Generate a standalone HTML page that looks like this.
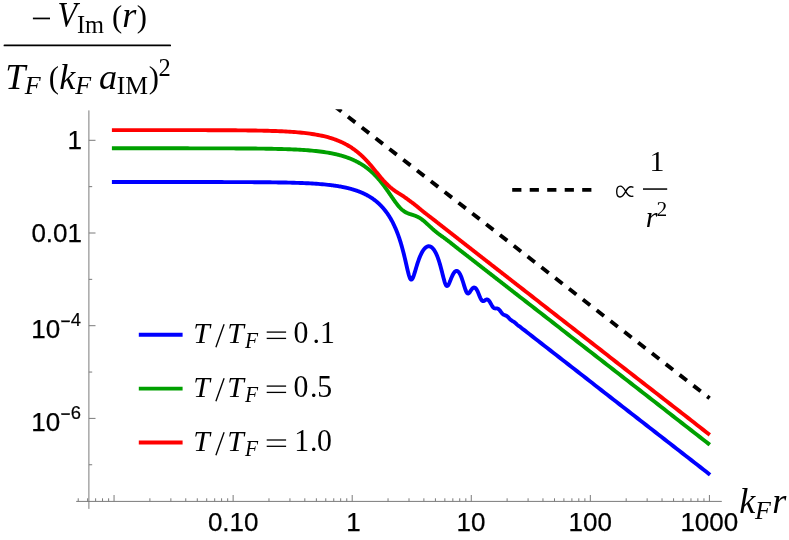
<!DOCTYPE html>
<html><head><meta charset="utf-8"><title>plot</title>
<style>
html,body{margin:0;padding:0;background:#fff;}
body{width:789px;height:540px;overflow:hidden;position:relative;}
svg{position:absolute;left:0;top:0;will-change:transform;}
text{fill:#000;}
.s{font-family:"Liberation Sans",sans-serif;font-size:26px;stroke:#000;stroke-width:0.25px;}
.ss{font-family:"Liberation Sans",sans-serif;font-size:18.4px;stroke:#000;stroke-width:0.2px;}
.ti{font-family:"Liberation Serif",serif;font-style:italic;font-size:33.5px;}
.tr{font-family:"Liberation Serif",serif;font-size:33.5px;}
.tsi{font-family:"Liberation Serif",serif;font-style:italic;font-size:23.5px;}
.tsr{font-family:"Liberation Serif",serif;font-size:23.5px;}
.li{font-family:"Liberation Serif",serif;font-style:italic;font-size:29.8px;}
.lr{font-family:"Liberation Serif",serif;font-size:29.8px;}
.lsi{font-family:"Liberation Serif",serif;font-style:italic;font-size:21.4px;}
.lsr{font-family:"Liberation Serif",serif;font-size:21.4px;}
</style></head><body>
<svg width="789" height="540" viewBox="0 0 789 540">
<rect width="789" height="540" fill="#fff"/>
<defs><clipPath id="pc"><rect x="90" y="109.3" width="640" height="392"/></clipPath></defs>
<g stroke="#7a7a7a" stroke-width="1" fill="none">
<line x1="76.2" y1="501.4" x2="721.8" y2="501.4"/>
<line x1="88.9" y1="110.4" x2="88.9" y2="508.9"/>
<line x1="114.06" y1="501.4" x2="114.06" y2="495.00"/>
<line x1="233.13" y1="501.4" x2="233.13" y2="495.00"/>
<line x1="352.20" y1="501.4" x2="352.20" y2="495.00"/>
<line x1="471.27" y1="501.4" x2="471.27" y2="495.00"/>
<line x1="590.34" y1="501.4" x2="590.34" y2="495.00"/>
<line x1="709.41" y1="501.4" x2="709.41" y2="495.00"/>
<line x1="78.22" y1="501.4" x2="78.22" y2="498.30"/>
<line x1="87.64" y1="501.4" x2="87.64" y2="498.30"/>
<line x1="95.62" y1="501.4" x2="95.62" y2="498.30"/>
<line x1="102.52" y1="501.4" x2="102.52" y2="498.30"/>
<line x1="108.61" y1="501.4" x2="108.61" y2="498.30"/>
<line x1="149.90" y1="501.4" x2="149.90" y2="498.30"/>
<line x1="170.87" y1="501.4" x2="170.87" y2="498.30"/>
<line x1="185.75" y1="501.4" x2="185.75" y2="498.30"/>
<line x1="197.29" y1="501.4" x2="197.29" y2="498.30"/>
<line x1="206.71" y1="501.4" x2="206.71" y2="498.30"/>
<line x1="214.69" y1="501.4" x2="214.69" y2="498.30"/>
<line x1="221.59" y1="501.4" x2="221.59" y2="498.30"/>
<line x1="227.68" y1="501.4" x2="227.68" y2="498.30"/>
<line x1="268.97" y1="501.4" x2="268.97" y2="498.30"/>
<line x1="289.94" y1="501.4" x2="289.94" y2="498.30"/>
<line x1="304.82" y1="501.4" x2="304.82" y2="498.30"/>
<line x1="316.36" y1="501.4" x2="316.36" y2="498.30"/>
<line x1="325.78" y1="501.4" x2="325.78" y2="498.30"/>
<line x1="333.76" y1="501.4" x2="333.76" y2="498.30"/>
<line x1="340.66" y1="501.4" x2="340.66" y2="498.30"/>
<line x1="346.75" y1="501.4" x2="346.75" y2="498.30"/>
<line x1="388.04" y1="501.4" x2="388.04" y2="498.30"/>
<line x1="409.01" y1="501.4" x2="409.01" y2="498.30"/>
<line x1="423.89" y1="501.4" x2="423.89" y2="498.30"/>
<line x1="435.43" y1="501.4" x2="435.43" y2="498.30"/>
<line x1="444.85" y1="501.4" x2="444.85" y2="498.30"/>
<line x1="452.83" y1="501.4" x2="452.83" y2="498.30"/>
<line x1="459.73" y1="501.4" x2="459.73" y2="498.30"/>
<line x1="465.82" y1="501.4" x2="465.82" y2="498.30"/>
<line x1="507.11" y1="501.4" x2="507.11" y2="498.30"/>
<line x1="528.08" y1="501.4" x2="528.08" y2="498.30"/>
<line x1="542.96" y1="501.4" x2="542.96" y2="498.30"/>
<line x1="554.50" y1="501.4" x2="554.50" y2="498.30"/>
<line x1="563.92" y1="501.4" x2="563.92" y2="498.30"/>
<line x1="571.90" y1="501.4" x2="571.90" y2="498.30"/>
<line x1="578.80" y1="501.4" x2="578.80" y2="498.30"/>
<line x1="584.89" y1="501.4" x2="584.89" y2="498.30"/>
<line x1="626.18" y1="501.4" x2="626.18" y2="498.30"/>
<line x1="647.15" y1="501.4" x2="647.15" y2="498.30"/>
<line x1="662.03" y1="501.4" x2="662.03" y2="498.30"/>
<line x1="673.57" y1="501.4" x2="673.57" y2="498.30"/>
<line x1="682.99" y1="501.4" x2="682.99" y2="498.30"/>
<line x1="690.97" y1="501.4" x2="690.97" y2="498.30"/>
<line x1="697.87" y1="501.4" x2="697.87" y2="498.30"/>
<line x1="703.96" y1="501.4" x2="703.96" y2="498.30"/>
<line x1="88.9" y1="140.30" x2="95.50" y2="140.30"/>
<line x1="88.9" y1="233.00" x2="95.50" y2="233.00"/>
<line x1="88.9" y1="325.70" x2="95.50" y2="325.70"/>
<line x1="88.9" y1="418.40" x2="95.50" y2="418.40"/>
<line x1="88.9" y1="186.65" x2="92.20" y2="186.65"/>
<line x1="88.9" y1="279.35" x2="92.20" y2="279.35"/>
<line x1="88.9" y1="372.05" x2="92.20" y2="372.05"/>
<line x1="88.9" y1="464.75" x2="92.20" y2="464.75"/>
</g>
<g fill="none" stroke-width="3.9" stroke-linejoin="round">
<path id="cb" stroke="#0000ff" d="M111.90,182.03 L114.20,182.03 L116.20,182.03 L118.20,182.03 L120.20,182.03 L122.20,182.03 L124.20,182.03 L126.20,182.03 L128.20,182.03 L130.20,182.03 L132.20,182.03 L134.20,182.03 L136.20,182.03 L138.20,182.03 L140.20,182.03 L142.20,182.03 L144.20,182.03 L146.20,182.03 L148.20,182.03 L150.20,182.03 L152.20,182.03 L154.20,182.03 L156.20,182.03 L158.20,182.03 L160.20,182.03 L162.20,182.03 L164.20,182.03 L166.20,182.03 L168.20,182.03 L170.20,182.03 L172.20,182.03 L174.20,182.03 L176.20,182.03 L178.20,182.03 L180.20,182.04 L182.20,182.04 L184.20,182.04 L186.20,182.04 L188.20,182.04 L190.20,182.04 L192.20,182.04 L194.20,182.04 L196.20,182.04 L198.20,182.04 L200.20,182.05 L202.20,182.05 L204.20,182.05 L206.20,182.05 L208.20,182.05 L210.20,182.06 L212.20,182.06 L214.20,182.06 L216.20,182.06 L218.20,182.07 L220.20,182.07 L222.20,182.07 L224.20,182.08 L226.20,182.08 L228.20,182.08 L230.20,182.09 L232.20,182.09 L234.20,182.10 L236.20,182.11 L238.20,182.11 L240.20,182.12 L242.20,182.13 L244.20,182.13 L246.20,182.14 L248.20,182.15 L250.20,182.16 L252.20,182.17 L254.20,182.18 L256.20,182.20 L258.20,182.21 L260.20,182.23 L262.20,182.24 L264.20,182.26 L266.20,182.28 L268.20,182.30 L270.20,182.32 L272.20,182.34 L274.20,182.37 L276.20,182.40 L278.20,182.43 L280.20,182.46 L282.20,182.49 L284.20,182.53 L286.20,182.57 L288.20,182.62 L290.20,182.66 L292.20,182.72 L294.20,182.77 L296.20,182.83 L298.20,182.90 L300.20,182.97 L302.20,183.04 L304.20,183.13 L306.20,183.21 L308.20,183.31 L310.20,183.41 L312.20,183.53 L314.20,183.65 L316.20,183.78 L318.20,183.92 L320.20,184.08 L322.20,184.24 L324.20,184.42 L326.20,184.62 L328.20,184.83 L330.20,185.06 L330.30,185.07 L330.70,185.12 L331.10,185.16 L331.50,185.21 L331.90,185.26 L332.30,185.32 L332.70,185.37 L333.10,185.42 L333.50,185.47 L333.90,185.53 L334.30,185.58 L334.70,185.64 L335.10,185.70 L335.50,185.76 L335.90,185.82 L336.30,185.88 L336.70,185.94 L337.10,186.00 L337.50,186.06 L337.90,186.13 L338.30,186.19 L338.70,186.26 L339.10,186.32 L339.50,186.39 L339.90,186.46 L340.30,186.53 L340.70,186.60 L341.10,186.68 L341.50,186.75 L341.90,186.83 L342.30,186.90 L342.70,186.98 L343.10,187.06 L343.50,187.14 L343.90,187.22 L344.30,187.30 L344.70,187.39 L345.10,187.47 L345.50,187.56 L345.90,187.65 L346.30,187.74 L346.70,187.83 L347.10,187.92 L347.50,188.02 L347.90,188.12 L348.30,188.21 L348.70,188.31 L349.10,188.41 L349.50,188.52 L349.90,188.62 L350.30,188.73 L350.70,188.83 L351.10,188.94 L351.50,189.05 L351.90,189.17 L352.30,189.28 L352.70,189.40 L353.10,189.52 L353.50,189.64 L353.90,189.76 L354.30,189.89 L354.70,190.01 L355.10,190.14 L355.50,190.28 L355.90,190.41 L356.30,190.54 L356.70,190.68 L357.10,190.82 L357.50,190.97 L357.90,191.11 L358.30,191.26 L358.70,191.41 L359.10,191.56 L359.50,191.72 L359.90,191.88 L360.30,192.04 L360.70,192.20 L361.10,192.37 L361.50,192.54 L361.90,192.71 L362.30,192.88 L362.70,193.06 L363.10,193.24 L363.50,193.43 L363.90,193.62 L364.30,193.81 L364.70,194.00 L365.10,194.20 L365.50,194.40 L365.90,194.60 L366.30,194.81 L366.70,195.02 L367.10,195.24 L367.50,195.46 L367.90,195.68 L368.30,195.91 L368.70,196.14 L369.10,196.38 L369.50,196.62 L369.90,196.86 L370.30,197.11 L370.70,197.36 L371.10,197.62 L371.50,197.88 L371.90,198.15 L372.30,198.42 L372.70,198.70 L373.10,198.98 L373.50,199.27 L373.90,199.56 L374.30,199.86 L374.70,200.16 L375.10,200.47 L375.50,200.78 L375.90,201.10 L376.30,201.43 L376.70,201.76 L377.10,202.10 L377.50,202.45 L377.90,202.80 L378.30,203.16 L378.70,203.53 L379.10,203.90 L379.50,204.28 L379.90,204.67 L380.30,205.06 L380.70,205.47 L381.10,205.88 L381.50,206.30 L381.90,206.73 L382.30,207.16 L382.70,207.61 L383.10,208.06 L383.50,208.53 L383.90,209.00 L384.30,209.48 L384.70,209.98 L385.10,210.48 L385.50,210.99 L385.90,211.52 L386.30,212.06 L386.70,212.60 L387.10,213.16 L387.50,213.73 L387.90,214.32 L388.30,214.92 L388.70,215.53 L389.10,216.15 L389.50,216.79 L389.90,217.44 L390.30,218.11 L390.70,218.79 L391.10,219.49 L391.50,220.20 L391.90,220.93 L392.30,221.68 L392.70,222.45 L393.10,223.23 L393.50,224.04 L393.90,224.86 L394.30,225.71 L394.70,226.57 L395.10,227.46 L395.50,228.37 L395.90,229.30 L396.30,230.26 L396.70,231.25 L397.10,232.25 L397.50,233.29 L397.90,234.35 L398.30,235.45 L398.70,236.57 L399.10,237.72 L399.50,238.91 L399.90,240.13 L400.30,241.38 L400.70,242.67 L401.10,243.99 L401.50,245.35 L401.90,246.75 L402.30,248.18 L402.70,249.66 L403.10,251.17 L403.50,252.72 L403.90,254.31 L404.30,255.94 L404.70,257.60 L405.10,259.29 L405.50,261.01 L405.90,262.75 L406.30,264.50 L406.70,266.26 L407.10,268.00 L407.50,269.71 L407.90,271.38 L408.30,272.96 L408.70,274.45 L409.10,275.81 L409.50,277.00 L409.90,278.00 L410.30,278.78 L410.70,279.31 L411.10,279.58 L411.50,279.60 L411.90,279.36 L412.30,278.88 L412.70,278.19 L413.10,277.32 L413.50,276.29 L413.90,275.15 L414.30,273.92 L414.70,272.63 L415.10,271.31 L415.50,269.96 L415.90,268.61 L416.30,267.27 L416.70,265.95 L417.10,264.66 L417.50,263.40 L417.90,262.19 L418.30,261.01 L418.70,259.88 L419.10,258.79 L419.50,257.75 L419.90,256.76 L420.30,255.82 L420.70,254.92 L421.10,254.07 L421.50,253.26 L421.90,252.50 L422.30,251.79 L422.70,251.12 L423.10,250.50 L423.50,249.92 L423.90,249.39 L424.30,248.90 L424.70,248.45 L425.10,248.04 L425.50,247.68 L425.90,247.35 L426.30,247.07 L426.70,246.83 L427.10,246.64 L427.50,246.48 L427.90,246.36 L428.30,246.29 L428.70,246.25 L429.10,246.26 L429.50,246.31 L429.90,246.40 L430.30,246.54 L430.70,246.72 L431.10,246.94 L431.50,247.20 L431.90,247.51 L432.30,247.86 L432.70,248.26 L433.10,248.70 L433.50,249.19 L433.90,249.73 L434.30,250.32 L434.70,250.96 L435.10,251.64 L435.50,252.38 L435.90,253.17 L436.30,254.02 L436.70,254.91 L437.10,255.87 L437.50,256.87 L437.90,257.94 L438.30,259.06 L438.70,260.24 L439.10,261.48 L439.50,262.77 L439.90,264.11 L440.30,265.51 L440.70,266.96 L441.10,268.46 L441.50,269.99 L441.90,271.55 L442.30,273.14 L442.70,274.73 L443.10,276.31 L443.50,277.87 L443.90,279.36 L444.30,280.78 L444.70,282.09 L445.10,283.25 L445.50,284.24 L445.90,285.03 L446.30,285.59 L446.70,285.92 L447.10,286.02 L447.50,285.88 L447.90,285.53 L448.30,285.00 L448.70,284.31 L449.10,283.49 L449.50,282.58 L449.90,281.61 L450.30,280.61 L450.70,279.60 L451.10,278.59 L451.50,277.62 L451.90,276.68 L452.30,275.79 L452.70,274.97 L453.10,274.21 L453.50,273.52 L453.90,272.90 L454.30,272.37 L454.70,271.92 L455.10,271.55 L455.50,271.27 L455.90,271.07 L456.30,270.96 L456.70,270.93 L457.10,271.00 L457.50,271.15 L457.90,271.39 L458.30,271.73 L458.70,272.15 L459.10,272.66 L459.50,273.26 L459.90,273.94 L460.30,274.72 L460.70,275.58 L461.10,276.52 L461.50,277.53 L461.90,278.62 L462.30,279.78 L462.70,280.99 L463.10,282.25 L463.50,283.55 L463.90,284.86 L464.30,286.16 L464.70,287.44 L465.10,288.66 L465.50,289.80 L465.90,290.83 L466.30,291.72 L466.70,292.45 L467.10,292.99 L467.50,293.34 L467.90,293.50 L468.30,293.47 L468.70,293.28 L469.10,292.95 L469.50,292.50 L469.90,291.97 L470.30,291.38 L470.70,290.78 L471.10,290.17 L471.50,289.59 L471.90,289.06 L472.30,288.59 L472.70,288.19 L473.10,287.88 L473.50,287.66 L473.90,287.54 L474.30,287.53 L474.70,287.62 L475.10,287.82 L475.50,288.13 L475.90,288.54 L476.30,289.06 L476.70,289.68 L477.10,290.39 L477.50,291.19 L477.90,292.05 L478.30,292.98 L478.70,293.95 L479.10,294.94 L479.50,295.94 L479.90,296.91 L480.30,297.83 L480.70,298.67 L481.10,299.41 L481.50,300.03 L481.90,300.51 L482.30,300.86 L482.70,301.06 L483.10,301.12 L483.50,301.07 L483.90,300.93 L484.30,300.72 L484.70,300.48 L485.10,300.22 L485.50,299.97 L485.90,299.76 L486.30,299.60 L486.70,299.51 L487.10,299.50 L487.50,299.58 L487.90,299.76 L488.30,300.04 L488.70,300.41 L489.10,300.87 L489.50,301.42 L489.90,302.03 L490.30,302.71 L490.70,303.42 L491.10,304.15 L491.50,304.87 L491.90,305.57 L492.30,306.23 L492.70,306.81 L493.10,307.31 L493.50,307.71 L493.90,308.01 L494.30,308.23 L494.70,308.35 L495.10,308.41 L495.50,308.43 L495.90,308.42 L496.30,308.40 L496.70,308.41 L497.10,308.45 L497.50,308.54 L497.90,308.70 L498.30,308.92 L498.70,309.22 L499.10,309.58 L499.50,310.01 L499.90,310.49 L500.30,311.01 L500.70,311.56 L501.10,312.10 L501.50,312.64 L501.90,313.14 L502.30,313.59 L502.70,313.99 L503.10,314.33 L503.50,314.61 L503.90,314.83 L504.30,315.01 L504.70,315.16 L505.10,315.30 L505.50,315.44 L505.90,315.60 L506.30,315.79 L506.70,316.02 L507.10,316.30 L507.50,316.62 L507.90,316.98 L508.30,317.38 L508.70,317.81 L509.10,318.24 L509.50,318.68 L509.90,319.10 L510.30,319.49 L510.70,319.85 L511.10,320.17 L511.50,320.46 L511.90,320.71 L512.30,320.95 L512.70,321.17 L513.10,321.39 L513.50,321.63 L513.90,321.88 L514.30,322.16 L514.70,322.47 L515.10,322.80 L515.50,323.15 L515.90,323.52 L516.30,323.89 L516.70,324.26 L517.10,324.63 L517.50,324.97 L517.90,325.29 L518.30,325.59 L518.70,325.88 L519.10,326.15 L519.50,326.42 L519.90,326.69 L520.30,326.96 L523.30,329.40 L526.30,331.66 L529.30,334.06 L532.30,336.35 L535.30,338.71 L538.30,341.04 L541.30,343.37 L544.30,345.71 L547.30,348.05 L550.30,350.38 L553.30,352.72 L556.30,355.05 L559.30,357.39 L562.30,359.72 L565.30,362.06 L568.30,364.39 L571.30,366.73 L574.30,369.07 L577.30,371.40 L580.30,373.74 L583.30,376.07 L586.30,378.41 L589.30,380.74 L592.30,383.08 L595.30,385.42 L598.30,387.75 L601.30,390.09 L604.30,392.42 L607.30,394.76 L610.30,397.09 L613.30,399.43 L616.30,401.76 L619.30,404.10 L622.30,406.44 L625.30,408.77 L628.30,411.11 L631.30,413.44 L634.30,415.78 L637.30,418.11 L640.30,420.45 L643.30,422.78 L646.30,425.12 L649.30,427.46 L652.30,429.79 L655.30,432.13 L658.30,434.46 L661.30,436.80 L664.30,439.13 L667.30,441.47 L670.30,443.81 L673.30,446.14 L676.30,448.48 L679.30,450.81 L682.30,453.15 L685.30,455.48 L688.30,457.82 L691.30,460.15 L694.30,462.49 L697.30,464.83 L700.30,467.16 L703.30,469.50 L706.30,471.83 L709.30,474.17 L710.10,474.79"/>
<path id="cg" stroke="#00a000" d="M111.90,148.31 L113.90,148.31 L115.90,148.31 L117.90,148.31 L119.90,148.31 L121.90,148.31 L123.90,148.31 L125.90,148.31 L127.90,148.31 L129.90,148.31 L131.90,148.31 L133.90,148.31 L135.90,148.31 L137.90,148.31 L139.90,148.31 L141.90,148.31 L143.90,148.31 L145.90,148.31 L147.90,148.31 L149.90,148.31 L151.90,148.31 L153.90,148.31 L155.90,148.31 L157.90,148.31 L159.90,148.31 L161.90,148.31 L163.90,148.31 L165.90,148.31 L167.90,148.31 L169.90,148.31 L171.90,148.32 L173.90,148.32 L175.90,148.32 L177.90,148.32 L179.90,148.32 L181.90,148.32 L183.90,148.32 L185.90,148.32 L187.90,148.32 L189.90,148.33 L191.90,148.33 L193.90,148.33 L195.90,148.33 L197.90,148.33 L199.90,148.34 L201.90,148.34 L203.90,148.34 L205.90,148.34 L207.90,148.35 L209.90,148.35 L211.90,148.35 L213.90,148.36 L215.90,148.36 L217.90,148.37 L219.90,148.37 L221.90,148.38 L223.90,148.38 L225.90,148.39 L227.90,148.40 L229.90,148.40 L231.90,148.41 L233.90,148.42 L235.90,148.43 L237.90,148.44 L239.90,148.45 L241.90,148.46 L243.90,148.47 L245.90,148.49 L247.90,148.50 L249.90,148.52 L251.90,148.53 L253.90,148.55 L255.90,148.57 L257.90,148.59 L259.90,148.62 L261.90,148.64 L263.90,148.67 L265.90,148.70 L267.90,148.73 L269.90,148.77 L271.90,148.80 L273.90,148.84 L275.90,148.89 L277.90,148.93 L279.90,148.98 L281.90,149.04 L283.90,149.10 L285.90,149.16 L287.90,149.23 L289.90,149.30 L291.90,149.38 L293.90,149.47 L295.90,149.56 L297.90,149.67 L299.90,149.78 L301.90,149.89 L303.90,150.02 L305.90,150.16 L307.90,150.31 L309.90,150.47 L311.90,150.65 L313.90,150.83 L315.90,151.04 L317.90,151.26 L319.90,151.50 L321.90,151.75 L323.90,152.03 L325.90,152.33 L327.90,152.66 L329.90,153.01 L330.00,153.02 L330.40,153.10 L330.80,153.17 L331.20,153.25 L331.60,153.33 L332.00,153.41 L332.40,153.49 L332.80,153.57 L333.20,153.65 L333.60,153.73 L334.00,153.82 L334.40,153.90 L334.80,153.99 L335.20,154.08 L335.60,154.17 L336.00,154.26 L336.40,154.35 L336.80,154.45 L337.20,154.55 L337.60,154.64 L338.00,154.74 L338.40,154.84 L338.80,154.94 L339.20,155.05 L339.60,155.15 L340.00,155.26 L340.40,155.37 L340.80,155.48 L341.20,155.59 L341.60,155.71 L342.00,155.82 L342.40,155.94 L342.80,156.06 L343.20,156.18 L343.60,156.30 L344.00,156.43 L344.40,156.56 L344.80,156.69 L345.20,156.82 L345.60,156.95 L346.00,157.08 L346.40,157.22 L346.80,157.36 L347.20,157.50 L347.60,157.65 L348.00,157.79 L348.40,157.94 L348.80,158.09 L349.20,158.25 L349.60,158.40 L350.00,158.56 L350.40,158.72 L350.80,158.88 L351.20,159.05 L351.60,159.22 L352.00,159.39 L352.40,159.56 L352.80,159.74 L353.20,159.91 L353.60,160.10 L354.00,160.28 L354.40,160.47 L354.80,160.66 L355.20,160.85 L355.60,161.05 L356.00,161.25 L356.40,161.45 L356.80,161.65 L357.20,161.86 L357.60,162.08 L358.00,162.29 L358.40,162.51 L358.80,162.73 L359.20,162.96 L359.60,163.19 L360.00,163.42 L360.40,163.65 L360.80,163.89 L361.20,164.14 L361.60,164.38 L362.00,164.63 L362.40,164.89 L362.80,165.15 L363.20,165.41 L363.60,165.68 L364.00,165.95 L364.40,166.22 L364.80,166.50 L365.20,166.79 L365.60,167.07 L366.00,167.37 L366.40,167.66 L366.80,167.96 L367.20,168.27 L367.60,168.58 L368.00,168.89 L368.40,169.21 L368.80,169.54 L369.20,169.87 L369.60,170.20 L370.00,170.54 L370.40,170.88 L370.80,171.23 L371.20,171.59 L371.60,171.94 L372.00,172.31 L372.40,172.68 L372.80,173.05 L373.20,173.43 L373.60,173.82 L374.00,174.21 L374.40,174.61 L374.80,175.01 L375.20,175.42 L375.60,175.83 L376.00,176.25 L376.40,176.68 L376.80,177.11 L377.20,177.54 L377.60,177.99 L378.00,178.43 L378.40,178.89 L378.80,179.35 L379.20,179.81 L379.60,180.29 L380.00,180.76 L380.40,181.25 L380.80,181.73 L381.20,182.23 L381.60,182.73 L382.00,183.23 L382.40,183.75 L382.80,184.26 L383.20,184.79 L383.60,185.31 L384.00,185.85 L384.40,186.38 L384.80,186.93 L385.20,187.47 L385.60,188.02 L386.00,188.58 L386.40,189.14 L386.80,189.71 L387.20,190.27 L387.60,190.84 L388.00,191.42 L388.40,192.00 L388.80,192.58 L389.20,193.16 L389.60,193.74 L390.00,194.32 L390.40,194.91 L390.80,195.50 L391.20,196.08 L391.60,196.66 L392.00,197.25 L392.40,197.83 L392.80,198.41 L393.20,198.98 L393.60,199.56 L394.00,200.12 L394.40,200.69 L394.80,201.24 L395.20,201.79 L395.60,202.34 L396.00,202.88 L396.40,203.41 L396.80,203.94 L397.20,204.45 L397.60,204.96 L398.00,205.46 L398.40,205.94 L398.80,206.41 L399.20,206.87 L399.60,207.31 L400.00,207.75 L400.40,208.16 L400.80,208.57 L401.20,208.95 L401.60,209.32 L402.00,209.68 L402.40,210.02 L402.80,210.34 L403.20,210.65 L403.60,210.95 L404.00,211.23 L404.40,211.50 L404.80,211.75 L405.20,211.99 L405.60,212.22 L406.00,212.44 L406.40,212.63 L406.80,212.83 L407.20,213.01 L407.60,213.19 L408.00,213.35 L408.40,213.51 L408.80,213.66 L409.20,213.81 L409.60,213.95 L410.00,214.08 L410.40,214.21 L410.80,214.34 L411.20,214.46 L411.60,214.59 L412.00,214.71 L412.40,214.84 L412.80,214.96 L413.20,215.08 L413.60,215.22 L414.00,215.35 L414.40,215.48 L414.80,215.63 L415.20,215.78 L415.60,215.93 L416.00,216.10 L416.40,216.26 L416.80,216.44 L417.20,216.62 L417.60,216.82 L418.00,217.02 L418.40,217.23 L418.80,217.45 L419.20,217.68 L419.60,217.92 L420.00,218.18 L420.40,218.43 L420.80,218.69 L421.20,218.97 L421.60,219.26 L422.00,219.54 L422.40,219.84 L422.80,220.15 L423.20,220.47 L423.60,220.79 L424.00,221.12 L424.40,221.45 L424.80,221.79 L425.20,222.14 L425.60,222.50 L426.00,222.85 L426.40,223.21 L426.80,223.58 L427.20,223.95 L427.60,224.32 L428.00,224.69 L428.40,225.06 L428.80,225.44 L429.20,225.81 L429.60,226.18 L430.00,226.56 L430.40,226.93 L430.80,227.30 L431.20,227.67 L431.60,228.04 L432.00,228.40 L432.40,228.77 L432.80,229.12 L433.20,229.48 L433.60,229.83 L434.00,230.18 L434.40,230.53 L434.80,230.86 L435.20,231.20 L435.60,231.53 L436.00,231.86 L436.40,232.18 L436.80,232.51 L437.20,232.81 L437.60,233.13 L438.00,233.43 L438.40,233.74 L438.80,234.03 L439.20,234.34 L439.60,234.63 L440.00,234.92 L440.40,235.21 L440.80,235.50 L441.20,235.78 L441.60,236.07 L442.00,236.35 L442.40,236.64 L442.80,236.93 L443.20,237.22 L443.60,237.50 L444.00,237.79 L444.40,238.09 L444.80,238.38 L445.20,238.68 L445.60,238.97 L446.00,239.27 L446.40,239.57 L446.80,239.87 L447.20,240.18 L447.60,240.48 L448.00,240.79 L448.40,241.10 L448.80,241.41 L449.20,241.72 L449.60,242.03 L450.00,242.35 L450.40,242.66 L450.80,242.98 L451.20,243.30 L451.60,243.61 L452.00,243.93 L452.40,244.25 L452.80,244.57 L453.20,244.89 L453.60,245.21 L454.00,245.52 L454.40,245.84 L454.80,246.16 L455.20,246.48 L455.60,246.79 L456.00,247.11 L456.40,247.42 L456.80,247.74 L457.20,248.05 L457.60,248.37 L458.00,248.68 L458.40,248.99 L458.80,249.30 L459.20,249.62 L459.60,249.93 L460.00,250.24 L460.40,250.55 L460.80,250.86 L461.20,251.17 L461.60,251.48 L462.00,251.79 L462.40,252.10 L462.80,252.41 L463.20,252.72 L463.60,253.03 L464.00,253.34 L464.40,253.65 L464.80,253.96 L465.20,254.27 L465.60,254.58 L466.00,254.90 L466.40,255.21 L466.80,255.52 L467.20,255.83 L467.60,256.14 L468.00,256.46 L468.40,256.77 L468.80,257.08 L469.20,257.39 L469.60,257.71 L470.00,258.02 L470.40,258.33 L470.80,258.64 L471.20,258.95 L471.60,259.27 L472.00,259.58 L472.40,259.89 L472.80,260.20 L473.20,260.51 L473.60,260.83 L474.00,261.14 L474.40,261.45 L474.80,261.76 L475.20,262.07 L475.60,262.38 L476.00,262.70 L476.40,263.01 L476.80,263.32 L477.20,263.63 L477.60,263.94 L478.00,264.25 L478.40,264.56 L478.80,264.88 L479.20,265.19 L479.60,265.50 L480.00,265.81 L480.40,266.12 L480.80,266.43 L481.20,266.75 L481.60,267.06 L482.00,267.37 L482.40,267.68 L482.80,267.99 L483.20,268.31 L483.60,268.62 L484.00,268.93 L484.40,269.24 L484.80,269.55 L485.20,269.86 L485.60,270.17 L486.00,270.49 L486.40,270.80 L486.80,271.11 L487.20,271.42 L487.60,271.73 L488.00,272.04 L488.40,272.36 L488.80,272.67 L489.20,272.98 L489.60,273.29 L490.00,273.60 L490.40,273.91 L490.80,274.23 L491.20,274.54 L491.60,274.85 L492.00,275.16 L492.40,275.47 L492.80,275.78 L493.20,276.10 L493.60,276.41 L494.00,276.72 L494.40,277.03 L494.80,277.34 L495.20,277.65 L495.60,277.96 L496.00,278.28 L496.40,278.59 L496.80,278.90 L497.20,279.21 L497.60,279.52 L498.00,279.83 L498.40,280.15 L498.80,280.46 L499.20,280.77 L499.60,281.08 L500.00,281.39 L500.40,281.70 L500.80,282.01 L501.20,282.33 L501.60,282.64 L502.00,282.95 L502.40,283.26 L502.80,283.57 L503.20,283.88 L503.60,284.20 L504.00,284.51 L504.40,284.82 L504.80,285.13 L505.20,285.44 L505.60,285.75 L506.00,286.06 L506.40,286.38 L506.80,286.69 L507.20,287.00 L507.60,287.31 L508.00,287.62 L508.40,287.93 L508.80,288.25 L509.20,288.56 L509.60,288.87 L510.00,289.18 L510.40,289.49 L510.80,289.80 L511.20,290.11 L511.60,290.43 L512.00,290.74 L512.40,291.05 L512.80,291.36 L513.20,291.67 L513.60,291.98 L514.00,292.29 L514.40,292.61 L514.80,292.92 L515.20,293.23 L515.60,293.54 L516.00,293.85 L516.40,294.16 L516.80,294.48 L517.20,294.79 L517.60,295.10 L518.00,295.41 L518.40,295.72 L518.80,296.03 L519.20,296.34 L519.60,296.66 L520.00,296.97 L523.00,299.30 L526.00,301.64 L529.00,303.98 L532.00,306.31 L535.00,308.65 L538.00,310.98 L541.00,313.32 L544.00,315.65 L547.00,317.99 L550.00,320.33 L553.00,322.66 L556.00,325.00 L559.00,327.33 L562.00,329.67 L565.00,332.00 L568.00,334.34 L571.00,336.68 L574.00,339.01 L577.00,341.35 L580.00,343.68 L583.00,346.02 L586.00,348.35 L589.00,350.69 L592.00,353.03 L595.00,355.36 L598.00,357.70 L601.00,360.03 L604.00,362.37 L607.00,364.70 L610.00,367.04 L613.00,369.37 L616.00,371.71 L619.00,374.05 L622.00,376.38 L625.00,378.72 L628.00,381.05 L631.00,383.39 L634.00,385.72 L637.00,388.06 L640.00,390.40 L643.00,392.73 L646.00,395.07 L649.00,397.40 L652.00,399.74 L655.00,402.07 L658.00,404.41 L661.00,406.74 L664.00,409.08 L667.00,411.42 L670.00,413.75 L673.00,416.09 L676.00,418.42 L679.00,420.76 L682.00,423.09 L685.00,425.43 L688.00,427.76 L691.00,430.10 L694.00,432.44 L697.00,434.77 L700.00,437.11 L703.00,439.44 L706.00,441.78 L709.00,444.11 L709.80,444.74"/>
<path id="cr" stroke="#ff0000" d="M111.90,130.11 L113.90,130.11 L115.90,130.11 L117.90,130.11 L119.90,130.11 L121.90,130.11 L123.90,130.11 L125.90,130.11 L127.90,130.11 L129.90,130.11 L131.90,130.11 L133.90,130.11 L135.90,130.11 L137.90,130.11 L139.90,130.11 L141.90,130.11 L143.90,130.11 L145.90,130.11 L147.90,130.11 L149.90,130.11 L151.90,130.11 L153.90,130.12 L155.90,130.12 L157.90,130.12 L159.90,130.12 L161.90,130.12 L163.90,130.12 L165.90,130.12 L167.90,130.12 L169.90,130.12 L171.90,130.12 L173.90,130.13 L175.90,130.13 L177.90,130.13 L179.90,130.13 L181.90,130.13 L183.90,130.13 L185.90,130.14 L187.90,130.14 L189.90,130.14 L191.90,130.14 L193.90,130.15 L195.90,130.15 L197.90,130.15 L199.90,130.16 L201.90,130.16 L203.90,130.17 L205.90,130.17 L207.90,130.18 L209.90,130.18 L211.90,130.19 L213.90,130.19 L215.90,130.20 L217.90,130.21 L219.90,130.22 L221.90,130.23 L223.90,130.24 L225.90,130.25 L227.90,130.26 L229.90,130.27 L231.90,130.28 L233.90,130.30 L235.90,130.31 L237.90,130.33 L239.90,130.34 L241.90,130.36 L243.90,130.38 L245.90,130.41 L247.90,130.43 L249.90,130.46 L251.90,130.49 L253.90,130.52 L255.90,130.55 L257.90,130.58 L259.90,130.62 L261.90,130.66 L263.90,130.71 L265.90,130.76 L267.90,130.81 L269.90,130.87 L271.90,130.93 L273.90,130.99 L275.90,131.06 L277.90,131.14 L279.90,131.22 L281.90,131.31 L283.90,131.41 L285.90,131.52 L287.90,131.63 L289.90,131.75 L291.90,131.88 L293.90,132.03 L295.90,132.18 L297.90,132.35 L299.90,132.53 L301.90,132.72 L303.90,132.93 L305.90,133.16 L307.90,133.41 L309.90,133.67 L311.90,133.96 L313.90,134.27 L315.90,134.60 L317.90,134.96 L319.90,135.35 L321.90,135.77 L323.90,136.22 L325.90,136.71 L327.90,137.24 L329.90,137.81 L330.00,137.84 L330.40,137.96 L330.80,138.08 L331.20,138.20 L331.60,138.33 L332.00,138.46 L332.40,138.59 L332.80,138.72 L333.20,138.85 L333.60,138.99 L334.00,139.12 L334.40,139.26 L334.80,139.40 L335.20,139.55 L335.60,139.69 L336.00,139.84 L336.40,139.99 L336.80,140.15 L337.20,140.30 L337.60,140.46 L338.00,140.62 L338.40,140.78 L338.80,140.95 L339.20,141.11 L339.60,141.28 L340.00,141.45 L340.40,141.63 L340.80,141.81 L341.20,141.99 L341.60,142.17 L342.00,142.36 L342.40,142.54 L342.80,142.73 L343.20,142.93 L343.60,143.13 L344.00,143.33 L344.40,143.53 L344.80,143.73 L345.20,143.94 L345.60,144.16 L346.00,144.37 L346.40,144.59 L346.80,144.81 L347.20,145.04 L347.60,145.26 L348.00,145.50 L348.40,145.73 L348.80,145.97 L349.20,146.21 L349.60,146.46 L350.00,146.71 L350.40,146.96 L350.80,147.21 L351.20,147.47 L351.60,147.74 L352.00,148.00 L352.40,148.28 L352.80,148.55 L353.20,148.83 L353.60,149.11 L354.00,149.40 L354.40,149.69 L354.80,149.98 L355.20,150.28 L355.60,150.59 L356.00,150.89 L356.40,151.20 L356.80,151.52 L357.20,151.84 L357.60,152.16 L358.00,152.49 L358.40,152.83 L358.80,153.16 L359.20,153.50 L359.60,153.85 L360.00,154.20 L360.40,154.56 L360.80,154.92 L361.20,155.28 L361.60,155.65 L362.00,156.02 L362.40,156.40 L362.80,156.78 L363.20,157.17 L363.60,157.56 L364.00,157.95 L364.40,158.35 L364.80,158.76 L365.20,159.17 L365.60,159.58 L366.00,160.00 L366.40,160.42 L366.80,160.85 L367.20,161.28 L367.60,161.71 L368.00,162.15 L368.40,162.59 L368.80,163.04 L369.20,163.49 L369.60,163.95 L370.00,164.41 L370.40,164.87 L370.80,165.33 L371.20,165.80 L371.60,166.27 L372.00,166.75 L372.40,167.23 L372.80,167.71 L373.20,168.19 L373.60,168.67 L374.00,169.16 L374.40,169.65 L374.80,170.14 L375.20,170.63 L375.60,171.12 L376.00,171.61 L376.40,172.11 L376.80,172.60 L377.20,173.09 L377.60,173.59 L378.00,174.08 L378.40,174.57 L378.80,175.06 L379.20,175.54 L379.60,176.03 L380.00,176.51 L380.40,176.99 L380.80,177.46 L381.20,177.93 L381.60,178.40 L382.00,178.86 L382.40,179.32 L382.80,179.77 L383.20,180.22 L383.60,180.65 L384.00,181.09 L384.40,181.51 L384.80,181.93 L385.20,182.35 L385.60,182.76 L386.00,183.17 L386.40,183.57 L386.80,183.98 L387.20,184.38 L387.60,184.77 L388.00,185.16 L388.40,185.54 L388.80,185.92 L389.20,186.29 L389.60,186.66 L390.00,187.01 L390.40,187.37 L390.80,187.71 L391.20,188.04 L391.60,188.37 L392.00,188.69 L392.40,189.00 L392.80,189.30 L393.20,189.60 L393.60,189.88 L394.00,190.18 L394.40,190.46 L394.80,190.75 L395.20,191.03 L395.60,191.30 L396.00,191.57 L396.40,191.84 L396.80,192.11 L397.20,192.37 L397.60,192.64 L398.00,192.90 L398.40,193.15 L398.80,193.42 L399.20,193.67 L399.60,193.91 L400.00,194.16 L400.40,194.41 L400.80,194.66 L401.20,194.91 L401.60,195.15 L402.00,195.41 L402.40,195.67 L402.80,195.93 L403.20,196.19 L403.60,196.46 L404.00,196.73 L404.40,197.00 L404.80,197.28 L405.20,197.56 L405.60,197.84 L406.00,198.12 L406.40,198.41 L406.80,198.70 L407.20,198.99 L407.60,199.29 L408.00,199.58 L408.40,199.88 L408.80,200.17 L409.20,200.46 L409.60,200.76 L410.00,201.05 L410.40,201.34 L410.80,201.64 L411.20,201.94 L411.60,202.23 L412.00,202.53 L412.40,202.82 L412.80,203.13 L413.20,203.43 L413.60,203.74 L414.00,204.04 L414.40,204.35 L414.80,204.66 L415.20,204.97 L415.60,205.30 L416.00,205.61 L416.40,205.94 L416.80,206.26 L417.20,206.59 L417.60,206.93 L418.00,207.27 L418.40,207.61 L418.80,207.95 L419.20,208.28 L419.60,208.62 L420.00,208.96 L420.40,209.29 L420.80,209.62 L421.20,209.96 L421.60,210.28 L422.00,210.60 L422.40,210.93 L422.80,211.25 L423.20,211.58 L423.60,211.89 L424.00,212.21 L424.40,212.53 L424.80,212.84 L425.20,213.15 L425.60,213.47 L426.00,213.77 L426.40,214.08 L426.80,214.39 L427.20,214.70 L427.60,215.01 L428.00,215.31 L428.40,215.61 L428.80,215.92 L429.20,216.23 L429.60,216.53 L430.00,216.84 L430.40,217.14 L430.80,217.44 L431.20,217.75 L431.60,218.05 L432.00,218.36 L432.40,218.68 L432.80,218.99 L433.20,219.29 L433.60,219.60 L434.00,219.91 L434.40,220.23 L434.80,220.54 L435.20,220.85 L435.60,221.16 L436.00,221.47 L436.40,221.79 L436.80,222.10 L437.20,222.43 L437.60,222.74 L438.00,223.05 L438.40,223.37 L438.80,223.68 L439.20,224.00 L439.60,224.31 L440.00,224.63 L440.40,224.94 L440.80,225.26 L441.20,225.57 L441.60,225.88 L442.00,226.20 L442.40,226.51 L442.80,226.82 L443.20,227.14 L443.60,227.45 L444.00,227.77 L444.40,228.08 L444.80,228.39 L445.20,228.71 L445.60,229.02 L446.00,229.33 L446.40,229.64 L446.80,229.95 L447.20,230.26 L447.60,230.57 L448.00,230.89 L448.40,231.20 L448.80,231.51 L449.20,231.82 L449.60,232.13 L450.00,232.44 L450.40,232.75 L450.80,233.07 L451.20,233.38 L451.60,233.69 L452.00,234.00 L452.40,234.31 L452.80,234.63 L453.20,234.94 L453.60,235.26 L454.00,235.57 L454.40,235.88 L454.80,236.20 L455.20,236.51 L455.60,236.82 L456.00,237.13 L456.40,237.44 L456.80,237.76 L457.20,238.07 L457.60,238.38 L458.00,238.69 L458.40,239.00 L458.80,239.31 L459.20,239.63 L459.60,239.94 L460.00,240.25 L460.40,240.56 L460.80,240.87 L461.20,241.19 L461.60,241.50 L462.00,241.81 L462.40,242.12 L462.80,242.43 L463.20,242.74 L463.60,243.06 L464.00,243.37 L464.40,243.68 L464.80,243.99 L465.20,244.31 L465.60,244.63 L466.00,244.94 L466.40,245.25 L466.80,245.56 L467.20,245.87 L467.60,246.18 L468.00,246.50 L468.40,246.81 L468.80,247.12 L469.20,247.43 L469.60,247.74 L470.00,248.05 L470.40,248.37 L470.80,248.68 L471.20,248.99 L471.60,249.30 L472.00,249.61 L472.40,249.93 L472.80,250.24 L473.20,250.55 L473.60,250.86 L474.00,251.17 L474.40,251.49 L474.80,251.81 L475.20,252.12 L475.60,252.43 L476.00,252.74 L476.40,253.05 L476.80,253.36 L477.20,253.68 L477.60,253.99 L478.00,254.30 L478.40,254.61 L478.80,254.92 L479.20,255.23 L479.60,255.55 L480.00,255.86 L480.40,256.17 L480.80,256.48 L481.20,256.79 L481.60,257.10 L482.00,257.42 L482.40,257.73 L482.80,258.04 L483.20,258.36 L483.60,258.67 L484.00,258.98 L484.40,259.30 L484.80,259.61 L485.20,259.92 L485.60,260.23 L486.00,260.54 L486.40,260.85 L486.80,261.17 L487.20,261.48 L487.60,261.79 L488.00,262.10 L488.40,262.41 L488.80,262.72 L489.20,263.04 L489.60,263.35 L490.00,263.66 L490.40,263.97 L490.80,264.28 L491.20,264.59 L491.60,264.92 L492.00,265.23 L492.40,265.54 L492.80,265.85 L493.20,266.16 L493.60,266.47 L494.00,266.79 L494.40,267.10 L494.80,267.41 L495.20,267.72 L495.60,268.03 L496.00,268.34 L496.40,268.65 L496.80,268.97 L497.20,269.28 L497.60,269.59 L498.00,269.90 L498.40,270.21 L498.80,270.52 L499.20,270.84 L499.60,271.15 L500.00,271.46 L500.40,271.77 L500.80,272.09 L501.20,272.40 L501.60,272.72 L502.00,273.03 L502.40,273.34 L502.80,273.65 L503.20,273.96 L503.60,274.27 L504.00,274.59 L504.40,274.90 L504.80,275.21 L505.20,275.52 L505.60,275.83 L506.00,276.14 L506.40,276.45 L506.80,276.77 L507.20,277.08 L507.60,277.39 L508.00,277.70 L508.40,278.01 L508.80,278.32 L509.20,278.64 L509.60,278.95 L510.00,279.26 L510.40,279.57 L510.80,279.88 L511.20,280.19 L511.60,280.50 L512.00,280.83 L512.40,281.14 L512.80,281.45 L513.20,281.76 L513.60,282.07 L514.00,282.38 L514.40,282.70 L514.80,283.01 L515.20,283.32 L515.60,283.63 L516.00,283.94 L516.40,284.25 L516.80,284.56 L517.20,284.88 L517.60,285.19 L518.00,285.50 L518.40,285.81 L518.80,286.12 L519.20,286.43 L519.60,286.75 L520.00,287.06 L523.00,289.39 L526.00,291.73 L529.00,294.07 L532.00,296.41 L535.00,298.75 L538.00,301.08 L541.00,303.42 L544.00,305.76 L547.00,308.09 L550.00,310.43 L553.00,312.77 L556.00,315.11 L559.00,317.45 L562.00,319.78 L565.00,322.12 L568.00,324.46 L571.00,326.79 L574.00,329.13 L577.00,331.46 L580.00,333.81 L583.00,336.14 L586.00,338.48 L589.00,340.82 L592.00,343.15 L595.00,345.49 L598.00,347.82 L601.00,350.16 L604.00,352.49 L607.00,354.83 L610.00,357.17 L613.00,359.51 L616.00,361.85 L619.00,364.18 L622.00,366.52 L625.00,368.85 L628.00,371.19 L631.00,373.53 L634.00,375.86 L637.00,378.20 L640.00,380.53 L643.00,382.87 L646.00,385.20 L649.00,387.54 L652.00,389.88 L655.00,392.22 L658.00,394.56 L661.00,396.89 L664.00,399.23 L667.00,401.56 L670.00,403.90 L673.00,406.24 L676.00,408.57 L679.00,410.91 L682.00,413.24 L685.00,415.58 L688.00,417.91 L691.00,420.25 L694.00,422.58 L697.00,424.92 L700.00,427.26 L703.00,429.59 L706.00,431.93 L709.00,434.26 L709.80,434.89"/>
<line x1="709.6" y1="398.2" x2="318.52" y2="93.73" stroke="#000" stroke-dasharray="9.2 8.31" stroke-dashoffset="6.2" clip-path="url(#pc)"/>
</g>
<!-- legend -->
<g fill="none" stroke-width="3.9">
<line x1="138.8" y1="334.7" x2="182.6" y2="334.7" stroke="#0000ff"/>
<line x1="138.8" y1="388.6" x2="182.6" y2="388.6" stroke="#00a000"/>
<line x1="138.8" y1="442.5" x2="182.6" y2="442.5" stroke="#ff0000"/>
<line x1="512.2" y1="189.9" x2="591.4" y2="189.9" stroke="#000" stroke-dasharray="9.2 8.3"/>
</g>
<!-- x tick labels -->
<g class="s" text-anchor="middle">
<text x="233.2" y="531.0">0.10</text>
<text x="353.4" y="531.0">1</text>
<text x="471.0" y="531.0">10</text>
<text x="590.2" y="531.0">100</text>
<text x="709.3" y="531.0">1000</text>
</g>
<!-- y tick labels -->
<g class="s" text-anchor="end">
<text x="82.0" y="149.1">1</text>
<text x="82.0" y="242.1">0.01</text>
<text x="60.2" y="338.4">10</text>
<text x="60.2" y="431.0">10</text>
</g>
<g class="ss">
<rect x="61.4" y="320.55" width="8.4" height="1.5" fill="#000"/><text x="70.8" y="325.8">4</text>
<rect x="61.4" y="413.35" width="8.4" height="1.5" fill="#000"/><text x="70.8" y="418.8">6</text>
</g>
<rect x="3.55" y="44.55" width="167.55" height="1.8" rx="0.9" fill="#000"/>
<rect x="32.9" y="17.6" width="17.1" height="1.7" fill="#000"/>
<text transform="translate(57.43,27.20) scale(0.882,1)" style="font-family:'Liberation Serif',serif;font-style:italic;font-size:36.2px">V</text>
<text transform="translate(76.92,32.60) scale(0.952,1)" style="font-family:'Liberation Serif',serif;font-style:normal;font-size:25.6px">Im</text>
<text transform="translate(112.02,26.60)" style="font-family:'Liberation Serif',serif;font-style:normal;font-size:30.66px">(</text>
<text transform="translate(122.22,27.20)" style="font-family:'Liberation Serif',serif;font-style:italic;font-size:36.2px">r</text>
<text transform="translate(136.87,26.60)" style="font-family:'Liberation Serif',serif;font-style:normal;font-size:30.66px">)</text>
<text transform="translate(5.18,88.90)" style="font-family:'Liberation Serif',serif;font-style:italic;font-size:36.2px">T</text>
<text transform="translate(24.75,93.90)" style="font-family:'Liberation Serif',serif;font-style:italic;font-size:26px">F</text>
<text transform="translate(48.82,87.50)" style="font-family:'Liberation Serif',serif;font-style:normal;font-size:30.66px">(</text>
<text transform="translate(59.23,88.90)" style="font-family:'Liberation Serif',serif;font-style:italic;font-size:36.2px">k</text>
<text transform="translate(75.27,93.90)" style="font-family:'Liberation Serif',serif;font-style:italic;font-size:26px">F</text>
<text transform="translate(99.04,88.90)" style="font-family:'Liberation Serif',serif;font-style:italic;font-size:36.2px">a</text>
<text transform="translate(116.82,93.70)" style="font-family:'Liberation Serif',serif;font-style:normal;font-size:25.6px">IM</text>
<text transform="translate(148.77,87.50)" style="font-family:'Liberation Serif',serif;font-style:normal;font-size:30.66px">)</text>
<text transform="translate(158.46,75.80)" style="font-family:'Liberation Serif',serif;font-style:normal;font-size:24.5px">2</text>
<text transform="translate(739.28,512.60)" style="font-family:'Liberation Serif',serif;font-style:italic;font-size:36.2px">k</text>
<text transform="translate(754.97,518.90)" style="font-family:'Liberation Serif',serif;font-style:italic;font-size:26px">F</text>
<text transform="translate(772.22,512.60)" style="font-family:'Liberation Serif',serif;font-style:italic;font-size:36.2px">r</text>

<!-- prop label -->
<path d="M632.9,187.2 C629.5,185.6 627.5,188 625.7,191.4 C623.8,195 622,197 620,197 C617.8,197 616.7,194.5 616.7,191.5 C616.7,188.5 617.8,186.1 620.2,186.1 C622.3,186.1 623.9,188 625.7,191.4 C627.5,194.8 629.5,197.2 632.9,196.1" fill="none" stroke="#000" stroke-width="1.35" stroke-linecap="round"/>
<rect x="643" y="188.3" width="24.2" height="1.5" fill="#000"/>
<text class="lr" x="649.6" y="170.7">1</text>
<text class="li" x="645.8" y="226.9">r</text>
<text class="lsr" x="656.5" y="215.9">2</text>
<text class="li" transform="translate(193.3,343.10) scale(1,1.02)">T</text>
<line x1="215.9" y1="347.30" x2="224.1" y2="324.30" stroke="#000" stroke-width="1.35"/>
<text class="li" transform="translate(227.3,343.10) scale(1,1.02)">T</text>
<text class="lsi" transform="translate(245.0,347.60) scale(1,1.05)">F</text>
<rect x="266.7" y="331.45" width="19.4" height="1.3" fill="#000"/>
<rect x="266.7" y="337.75" width="19.4" height="1.3" fill="#000"/>
<text class="lr" transform="translate(293.6,343.20) scale(1,1.05)">0</text>
<text class="lr" x="312.6" y="343.0">.</text>
<text class="lr" transform="translate(319.9,343.20) scale(1,1.05)">1</text>
<text class="li" transform="translate(193.3,397.10) scale(1,1.02)">T</text>
<line x1="215.9" y1="401.30" x2="224.1" y2="378.30" stroke="#000" stroke-width="1.35"/>
<text class="li" transform="translate(227.3,397.10) scale(1,1.02)">T</text>
<text class="lsi" transform="translate(245.0,401.60) scale(1,1.05)">F</text>
<rect x="266.7" y="385.45" width="19.4" height="1.3" fill="#000"/>
<rect x="266.7" y="391.75" width="19.4" height="1.3" fill="#000"/>
<text class="lr" transform="translate(293.6,397.20) scale(1,1.05)">0</text>
<text class="lr" x="309.9" y="397.0">.</text>
<text class="lr" transform="translate(317.3,397.20) scale(1,1.05)">5</text>
<text class="li" transform="translate(193.3,451.00) scale(1,1.02)">T</text>
<line x1="215.9" y1="455.20" x2="224.1" y2="432.20" stroke="#000" stroke-width="1.35"/>
<text class="li" transform="translate(227.3,451.00) scale(1,1.02)">T</text>
<text class="lsi" transform="translate(245.0,455.50) scale(1,1.05)">F</text>
<rect x="266.7" y="439.35" width="19.4" height="1.3" fill="#000"/>
<rect x="266.7" y="445.65" width="19.4" height="1.3" fill="#000"/>
<text class="lr" transform="translate(294.2,451.10) scale(1,1.05)">1</text>
<text class="lr" x="310.1" y="450.9">.</text>
<text class="lr" transform="translate(316.9,451.10) scale(1,1.05)">0</text>
</svg></body></html>
